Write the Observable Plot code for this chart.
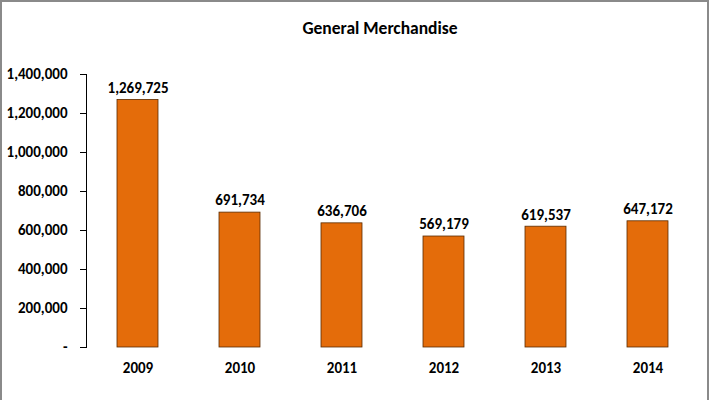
<!DOCTYPE html>
<html>
<head>
<meta charset="utf-8">
<script src="https://cdn.jsdelivr.net/npm/d3@7"></script>
<script src="https://cdn.jsdelivr.net/npm/@observablehq/plot@0.6"></script>
<style>
  html, body { margin: 0; padding: 0; background: #fff; }
  #wrap { position: relative; width: 715px; height: 400px; overflow: hidden; font-family: Carlito, Lato, "Open Sans", sans-serif; }
  #frame { position: absolute; left: 0px; top: 0px; width: 709px; height: 420px; border: 2px solid #8a8a8a; box-sizing: border-box; pointer-events: none; }
  #title { position: absolute; left: 0; width: 760px; top: 17px; text-align: center; font-weight: bold; font-size: 17.5px; color: #000; }
  #chart { position: absolute; left: 0; top: 0; }
</style>
</head>
<body>
<div id="wrap">
  <div id="chart"></div>
  <div id="title">General Merchandise</div>
  <div id="frame"></div>
</div>
<script>
const years = ["2009", "2010", "2011", "2012", "2013", "2014"];
const values = [1269725, 691734, 636706, 569179, 619537, 647172];
const yTicks = [0, 200000, 400000, 600000, 800000, 1000000, 1200000, 1400000];

const data = years.map((y, i) => ({year: y, value: values[i]}));
const fmt = d3.format(",");

const chart = Plot.plot({
  width: 715,
  height: 400,
  marginTop: 74,
  marginBottom: 53,
  marginLeft: 86,
  marginRight: 16,
  style: {fontFamily: "Carlito, Lato, 'Open Sans', sans-serif", fontSize: "15px", fontWeight: "bold", color: "#000", background: "transparent"},
  x: {domain: years, paddingInner: 0.6, paddingOuter: 0.3, label: null, tickSize: 0, tickPadding: 15},
  y: {domain: [0, 1400000], ticks: yTicks, label: null, tickSize: 6, tickPadding: 13, line: true,
      tickFormat: d => d === 0 ? "-" : fmt(d)},
  marks: [
    Plot.barY(data, {x: "year", y: "value", fill: "#E46C0A", stroke: "#5a2b00", strokeWidth: 0.8}),
    Plot.text(data, {x: "year", y: "value", text: d => fmt(d.value), dy: -12, fontSize: 15, fontWeight: "bold", fill: "#000"})
  ]
});
document.getElementById("chart").appendChild(chart);
</script>
</body>
</html>
